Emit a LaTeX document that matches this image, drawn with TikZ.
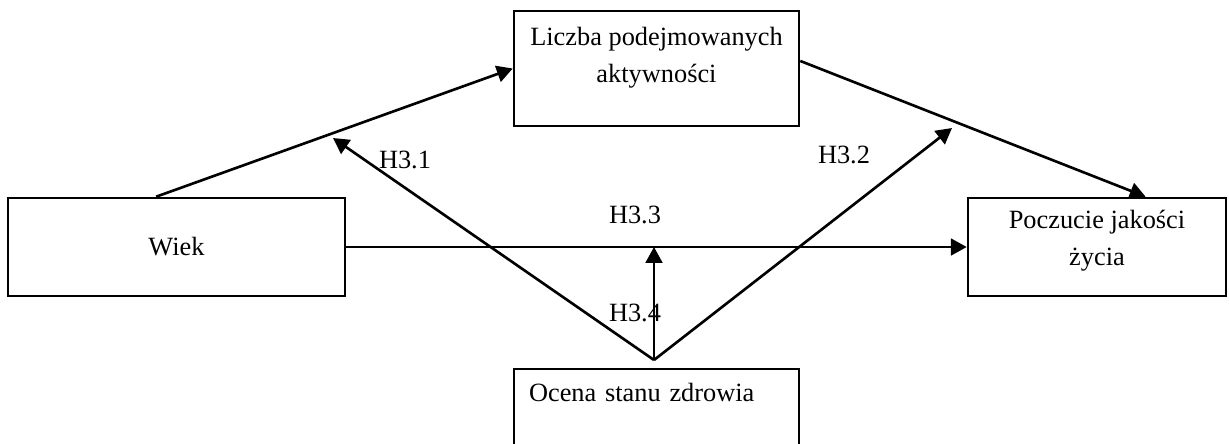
\documentclass[tikz,border=0pt]{standalone}
\usepackage{fontspec}
\setmainfont{Liberation Serif}
\usetikzlibrary{arrows.meta, positioning}

\begin{document}
\begin{tikzpicture}[
    x=0.02cm, y=-0.02cm,
    box/.style={
        draw=black,
        line width=1.5pt,
        align=center,
        inner sep=0pt,
        font=\fontsize{15}{21}\selectfont
    },
    hyp/.style={
        inner sep=0pt,
        font=\fontsize{15}{21}\selectfont
    },
    arrow/.style={
        -{Triangle[length=9pt, width=9.5pt]},
        line width=1.5pt,
        draw=black
    }
]
\useasboundingbox (0,0) rectangle (1229,443);

% Nodes
\node (activity) [box, minimum width=5.7cm, minimum height=2.3cm] at (656.5,68.5) {Liczba podejmowanych\\aktywności\rule[-16pt]{0pt}{16pt}};
\node (wiek) [box, minimum width=6.74cm, minimum height=1.96cm] at (176.5,247) {Wiek};
\node (quality) [box, minimum width=5.16cm, minimum height=1.96cm] at (1097,247) {Poczucie jakości\\życia\rule[-10pt]{0pt}{10pt}};
\node (health) [box, align=left, text width=5.1cm, minimum width=5.7cm, minimum height=2.3cm] at (656.5,426.5) {Ocena stanu zdrowia\rule[-39pt]{0pt}{39pt}};

\coordinate (apex) at (654,360);
\coordinate (h31) at (333,138);
\coordinate (h32) at (952,128);

\node (lab31) [hyp] at (405,160) {H3.1};
\node (lab32) [hyp] at (844,155) {H3.2};
\node (lab33) [hyp] at (635,215) {H3.3};
\node (lab34) [hyp] at (635,313) {H3.4};

% Paths
\draw [arrow] (wiek.112) -- (activity.west);
\draw [arrow] (activity.3) -- (quality.46);
\draw [arrow] (wiek.east) -- (quality.west);
\draw [arrow] (apex) -- (h31);
\draw [arrow] (apex) -- (h32);
\draw [arrow] (apex) -- (apex |- wiek.east);

\end{tikzpicture}
\end{document}
